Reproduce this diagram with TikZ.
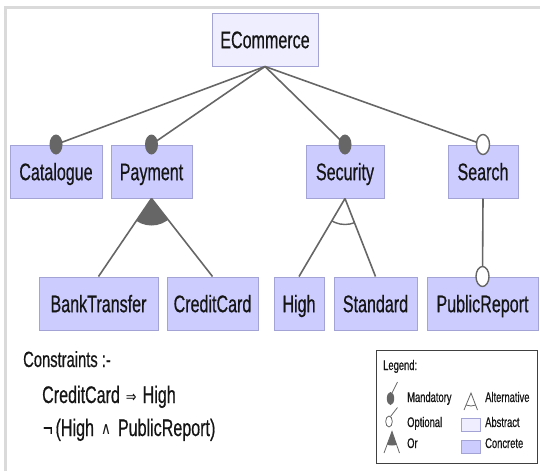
\documentclass[tikz,border=0pt]{standalone}
\usepackage{fontspec}
\setmainfont{Liberation Sans}
\newfontfamily\narrowfont[FakeStretch=0.67, FakeBold=0.5]{Liberation Sans}
\newfontfamily\symbfont[FakeStretch=0.8]{DejaVu Sans}

\definecolor{concrete}{HTML}{CCCCFF}
\definecolor{abstractfill}{HTML}{EEEEFF}
\definecolor{featborder}{HTML}{A3A3D6}
\definecolor{edgegray}{HTML}{666666}
\definecolor{framegray}{HTML}{DADADA}
\definecolor{inkblack}{HTML}{151515}

\newcommand{\implsym}{\raisebox{0.5pt}{\symbfont\fontsize{16}{16}\selectfont ⇒}}
\newcommand{\andsym}{\raisebox{1.5pt}{\symbfont\fontsize{17}{17}\selectfont ∧}}

\tikzset{
  feat/.style={draw=featborder, fill=concrete, line width=1pt, inner sep=0pt,
    text height=17.4pt, text depth=0pt, text=inkblack,
    font=\narrowfont\fontsize{24}{24}\selectfont, minimum height=53pt},
  absfeat/.style={feat, fill=abstractfill},
  edge/.style={draw=edgegray, line width=1.6pt},
  mandot/.style={fill=edgegray},
  optdot/.style={draw=edgegray, fill=white, line width=1.4pt},
  ctext/.style={inner sep=0pt, anchor=base west, text=inkblack,
    font=\narrowfont\fontsize{24}{24}\selectfont},
  ltext/.style={inner sep=0pt, anchor=base west, text=inkblack,
    font=\narrowfont\fontsize{14}{14}\selectfont},
  legline/.style={draw=edgegray, line width=0.8pt},
  swatch/.style={draw=featborder, line width=0.6pt}
}

\begin{document}
\begin{tikzpicture}[x=1pt, y=-1pt]
\useasboundingbox (0,0) rectangle (540,471);

% light frame along the top and left edges
\draw[framegray, line width=2.5pt] (5.3,471) -- (5.3,7.5) -- (540,7.5);

% features
\node[absfeat, minimum width=106pt] (ecom) at (265,39.5) {ECommerce};

\node[feat, minimum width=92pt] (cat) at (56,171.5) {Catalogue};
\node[feat, minimum width=81pt] (pay) at (151.5,171.5) {Payment};
\node[feat, minimum width=78pt] (sec) at (345,171.5) {Security};
\node[feat, minimum width=70pt] (search) at (483,171.5) {Search};

\node[feat, minimum width=119pt] (bank) at (98.5,303.5) {BankTransfer};
\node[feat, minimum width=91pt] (cc) at (212.5,303.5) {CreditCard};
\node[feat, minimum width=50pt] (high) at (299,303.5) {High};
\node[feat, minimum width=83pt] (std) at (375.5,303.5) {Standard};
\node[feat, minimum width=111pt] (pub) at (482.5,303.5) {PublicReport};

% connectors
\foreach \c in {cat,pay,sec,search}
  \draw[edge] (ecom.south) -- (\c.north);
\draw[edge] (pay.south) -- (bank.north);
\draw[edge] (pay.south) -- (cc.north);
\draw[edge] (sec.south) -- (high.north);
\draw[edge] (sec.south) -- (std.north);
\draw[edge] (search.south) -- (pub.north);

% mandatory / optional markers
\foreach \c in {cat,pay,sec}
  \fill[mandot] (\c.north) circle[x radius=6.5, y radius=10];
\draw[optdot] (search.north) circle[x radius=6.5, y radius=10];
\draw[optdot] (pub.north) circle[x radius=6.5, y radius=10];

% or-group (filled sector)
\begin{scope}
  \clip (pay.south) -- (bank.north) -- (cc.north) -- cycle;
  \fill[edgegray] (pay.south) circle[radius=27];
\end{scope}

% alternative group (open arc)
\begin{scope}
  \clip (sec.south) -- (high.north) -- (std.north) -- cycle;
  \draw[edgegray, line width=1.4pt] (sec.south) circle[radius=26];
\end{scope}

% constraints
\node[ctext, font=\narrowfont\fontsize{22}{22}\selectfont] (ctitle) at (23,367) {Constraints :-};
\node[ctext] (cone) at (42,403)
  {CreditCard\hspace{6pt}\implsym\hspace{6pt}High};
\node[ctext] (ctwo) at (43,436)
  {¬\hspace{3pt}(High\hspace{7pt}\andsym\hspace{7pt}PublicReport)};

% legend
\draw[draw=black!75, line width=1pt] (376,350) rectangle (537,463);
\node[ltext] (lgtitle) at (383,370) {Legend:};

\draw[legline] (392,393) -- (397.5,382);
\fill[mandot] (390.5,398.5) circle[x radius=3.7, y radius=6.5];
\node[ltext] (lgman) at (407,402) {Mandatory};

\draw[legline] (390.5,416.5) -- (397.5,407.5);
\draw[legline, fill=white] (389,421.5) circle[x radius=3.3, y radius=5.5];
\node[ltext] (lgopt) at (407,427) {Optional};

\coordinate (orapex) at (392,431.5);
\coordinate (orleft) at (384,453);
\coordinate (orright) at (399.5,453);
\draw[legline] (orleft) -- (orapex) -- (orright);
\begin{scope}
  \clip (orapex) -- (orleft) -- (orright) -- cycle;
  \fill[edgegray] (orapex) circle[radius=14];
\end{scope}
\node[ltext] (lgor) at (407,448) {Or};

\coordinate (altapex) at (471,393);
\coordinate (altleft) at (464,410);
\coordinate (altright) at (477.5,410);
\draw[legline] (altleft) -- (altapex) -- (altright);
\begin{scope}
  \clip (altapex) -- (altleft) -- (altright) -- cycle;
  \draw[legline] (altapex) circle[radius=13];
\end{scope}
\node[ltext] (lgalt) at (485,402) {Alternative};

\draw[swatch, fill=abstractfill] (461,418) rectangle (480,431);
\node[ltext] (lgabs) at (485,427) {Abstract};
\draw[swatch, fill=concrete] (461,440) rectangle (480,453);
\node[ltext] (lgcon) at (485,448) {Concrete};
\end{tikzpicture}
\end{document}
